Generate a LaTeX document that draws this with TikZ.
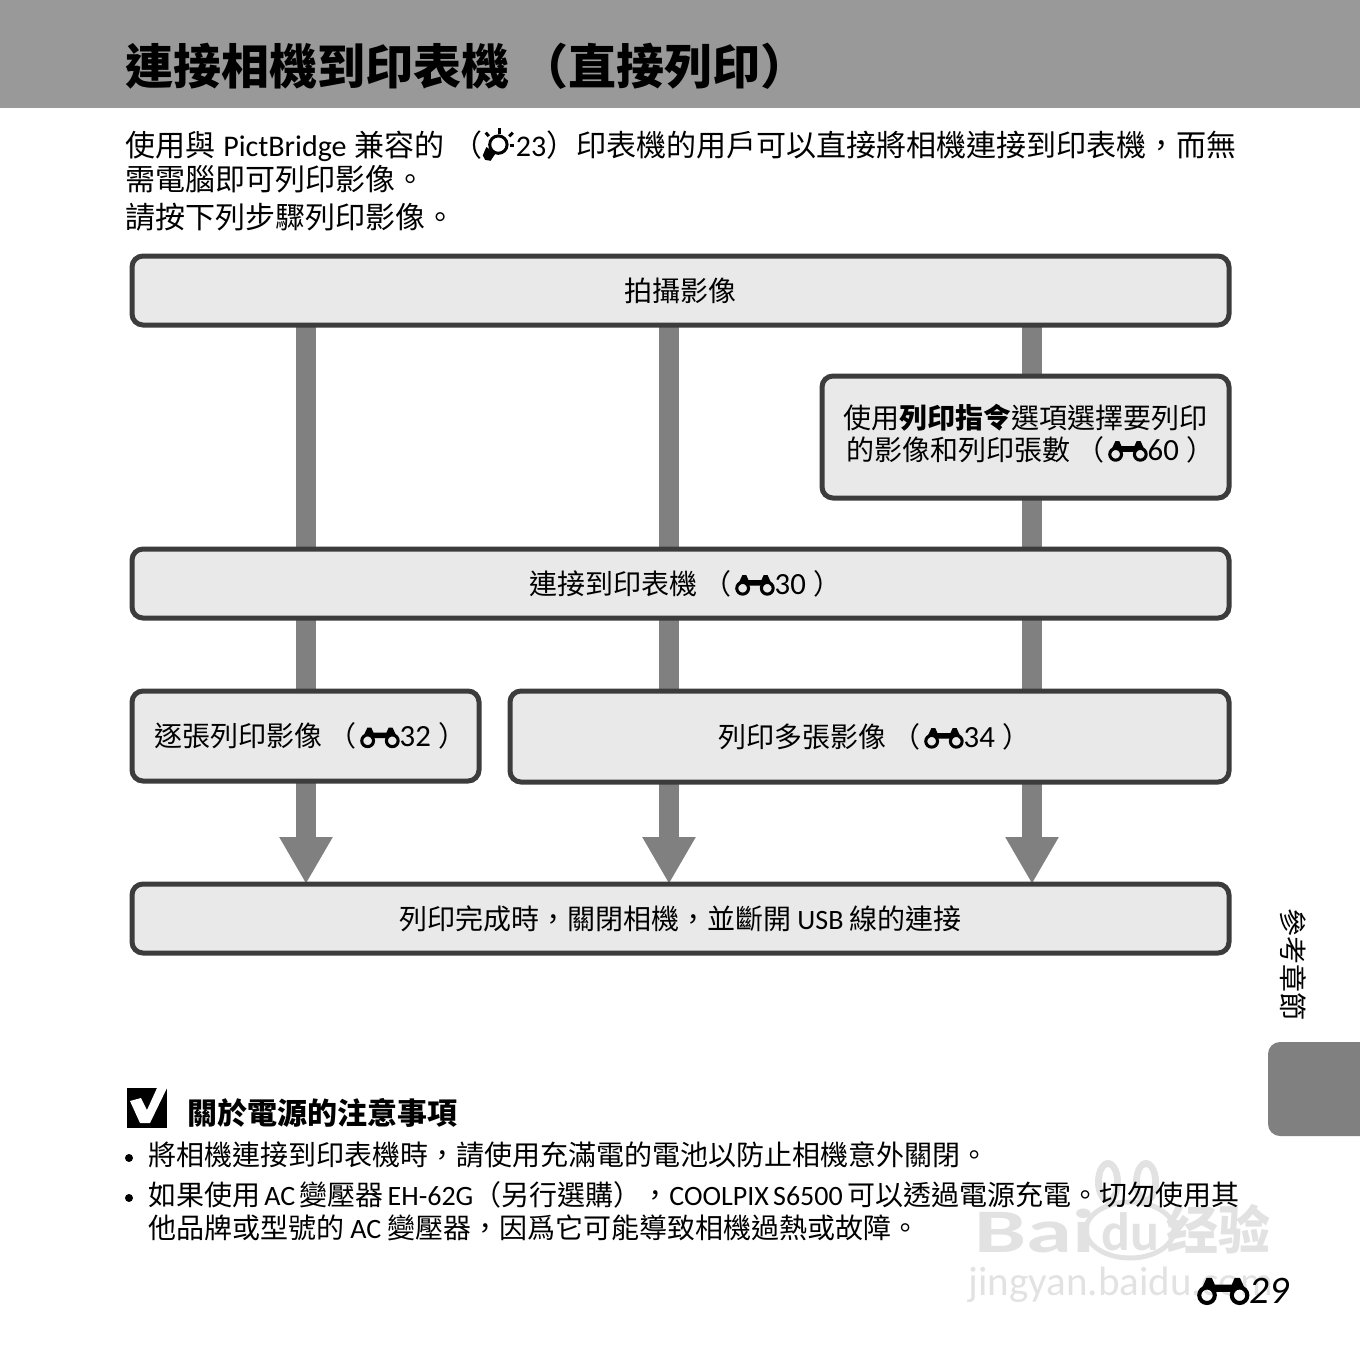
\documentclass[tikz,border=0pt]{standalone}
\usepackage{fontspec}
\setmainfont{Noto Sans CJK TC}
\newfontfamily\latinfont{Carlito}
\newfontfamily\digitfont[Scale=1.1]{Carlito}
\usetikzlibrary{arrows.meta, backgrounds}
\definecolor{bandgray}{HTML}{999999}
\definecolor{bargray}{HTML}{808080}
\definecolor{boxfill}{HTML}{E9E9E9}
\definecolor{boxline}{HTML}{3C3C3C}
\definecolor{markgray}{HTML}{E2E2E2}
\newcommand{\lat}[1]{{\latinfont #1}}
\newcommand{\binoc}{\tikz[baseline=0pt, x=1em, y=1em, line width=0.11em, sharp corners]{
  \draw[black] (0.25,0.21) circle (0.21);
  \draw[black] (1.13,0.21) circle (0.21);
  \fill[black] (0.03,0.22) -- (0.24,0.68) -- (0.38,0.68) -- (0.46,0.50) -- (0.92,0.50)
    -- (1.00,0.68) -- (1.14,0.68) -- (1.35,0.22) -- (1.13,0.42) -- (0.92,0.30)
    -- (0.46,0.30) -- (0.25,0.42) -- cycle;
}}
\newcommand{\seepage}[1]{（\kern.14em\binoc{\digitfont #1}\kern.28em）\kern-.35em}
\newcommand{\bulbicon}{\tikz[baseline=0pt, x=1em, y=1em, line width=0.1em, sharp corners]{
  \draw[black] (0.52,0.38) circle (0.29);
  \fill[black] (0.12,0.30) -- (0.42,0.08) -- (0.26,-0.16) -- (0.08,-0.13) -- (0.00,0.02) -- cycle;
  \draw[black] (0.56,0.74) -- (0.56,0.92);
  \draw[black] (0.20,0.66) -- (0.10,0.78);
  \draw[black] (0.88,0.66) -- (1.00,0.78);
  \draw[black] (0.90,0.36) -- (1.05,0.36);
}}

\begin{document}
\begin{tikzpicture}[x=1pt, y=-1pt, >=Stealth,
  flowbox/.style={draw=boxline, fill=boxfill, line width=5pt, rounded corners=11pt,
    anchor=north west, inner sep=0pt, outer sep=0pt, align=center,
    font=\fontsize{28}{32}\selectfont},
  flowbar/.style={draw=bargray, line width=20pt},
  flowarrow/.style={flowbar, -{Triangle[width=50pt, length=47pt]}},
  bodyline/.style={anchor=base west, inner sep=0pt, font=\fontsize{30}{30}\selectfont},
  noteline/.style={anchor=base west, inner sep=0pt, font=\fontsize{28}{28}\selectfont},
  notedot/.style={circle, fill=black, inner sep=0pt, minimum size=8pt},
  markword/.style={inner sep=0pt, text=markgray, transform shape}]
  \useasboundingbox (0,0) rectangle (1360,1360);

  % Watermark
  \fill[markgray] (1108,1182) ellipse (13 and 22) (1146,1182) ellipse (13 and 22);
  \fill[white] (1108,1182) ellipse (6 and 15) (1146,1182) ellipse (6 and 15);
  \draw[markgray, line width=5pt] (1130,1230) ellipse (44 and 28);
  \node[markword, xscale=1.5, font=\fontsize{62}{62}\selectfont\bfseries\latinfont] (markbai) at (1035,1231) {Bai};
  \node[markword, font=\fontsize{54}{54}\selectfont\bfseries\latinfont] (markdu) at (1130,1232) {du};
  \node[markword, font=\fontsize{52}{52}\selectfont\bfseries] (markjy) at (1218,1229) {经验};
  \node[markword, font=\fontsize{41}{41}\selectfont\latinfont] (markurl) at (1121,1285) {jingyan.baidu.com};

  % Header band and side tab
  \fill[bandgray] (0,0) rectangle (1360,108);
  \fill[bargray, rounded corners=12pt] (1268,1136) -- (1268,1042) -- (1375,1042) -- (1375,1136) -- cycle;
  \node[anchor=base west, inner sep=0pt, font=\fontsize{48}{48}\selectfont\bfseries] (title) at (125,84)
    {連接相機到印表機 （直接列印）};
  \node[inner sep=0pt, rotate=-90, font=\fontsize{28}{28}\selectfont] (sidelabel) at (1293,964) {參考章節};

  % Intro text
  \node[bodyline] (introa) at (125,156) {\makebox[1111pt][s]{使用與 \lat{PictBridge} 兼容的 （\bulbicon\lat{23}）印表機的用戶可以直接將相機連接到印表機，而無}};
  \node[bodyline] (introb) at (125,190) {需電腦即可列印影像。};
  \node[bodyline] (introc) at (125,228) {請按下列步驟列印影像。};

  % Flow boxes
  \node[flowbox, minimum width=1097pt, minimum height=69pt] (shoot) at (132,256) {拍攝影像};
  \node[flowbox, minimum width=407pt, minimum height=122pt] (order) at (822,376)
    {使用\textbf{列印指令}選項選擇要列印\\[0pt]的影像和列印張數 \seepage{60}\rule[-10pt]{0pt}{1pt}};
  \node[flowbox, minimum width=1097pt, minimum height=69pt] (connect) at (132,549)
    {連接到印表機 \seepage{30}};
  \node[flowbox, minimum width=347pt, minimum height=90pt] (single) at (132,691)
    {逐張列印影像 \seepage{32}};
  \node[flowbox, minimum width=719pt, minimum height=91pt] (multi) at (510,691)
    {列印多張影像 \seepage{34}};
  \node[flowbox, minimum width=1097pt, minimum height=69pt] (finish) at (132,884)
    {列印完成時，關閉相機，並斷開 \lat{USB} 線的連接};

  % Connectors
  \coordinate (cola) at (306,0);
  \coordinate (colb) at (669,0);
  \coordinate (colc) at (1032,0);
  \begin{scope}[on background layer]
    \draw[flowbar] (cola |- shoot.south) -- (cola |- connect.north);
    \draw[flowbar] (colb |- shoot.south) -- (colb |- connect.north);
    \draw[flowbar] (colc |- shoot.south) -- (colc |- order.north);
    \draw[flowbar] (colc |- order.south) -- (colc |- connect.north);
    \draw[flowbar] (cola |- connect.south) -- (cola |- single.north);
    \draw[flowbar] (colb |- connect.south) -- (colb |- multi.north);
    \draw[flowbar] (colc |- connect.south) -- (colc |- multi.north);
    \draw[flowarrow] (cola |- single.south) -- (cola |- finish.north);
    \draw[flowarrow] (colb |- multi.south) -- (colb |- finish.north);
    \draw[flowarrow] (colc |- multi.south) -- (colc |- finish.north);
  \end{scope}

  % Notes
  \fill[black] (127,1088) rectangle (167,1128);
  \fill[white] (130,1101) -- (141,1098) -- (147,1110) -- (157,1088) -- (167,1088) -- (150,1123) -- (140,1123) -- cycle;
  \node[anchor=base west, inner sep=0pt, font=\fontsize{30}{30}\selectfont\bfseries] (notetitle) at (187,1124) {關於電源的注意事項};
  \node[notedot] (dota) at (129,1158) {};
  \node[noteline] (notea) at (148,1165) {將相機連接到印表機時，請使用充滿電的電池以防止相機意外關閉。};
  \node[notedot] (dotb) at (129,1198) {};
  \node[noteline] (noteb) at (148,1205) {\makebox[1086pt][s]{如果使用 \lat{AC} 變壓器 \lat{EH-62G}（另行選購），\lat{COOLPIX S6500} 可以透過電源充電。切勿使用其}};
  \node[noteline] (notec) at (148,1238) {他品牌或型號的 \lat{AC} 變壓器，因爲它可能導致相機過熱或故障。};

  % Page number
  \node[anchor=base west, inner sep=0pt, font=\fontsize{37}{37}\selectfont\latinfont\itshape] (pagenum) at (1197,1303) {\binoc{\fontsize{39}{39}\selectfont 29}};
\end{tikzpicture}
\end{document}
